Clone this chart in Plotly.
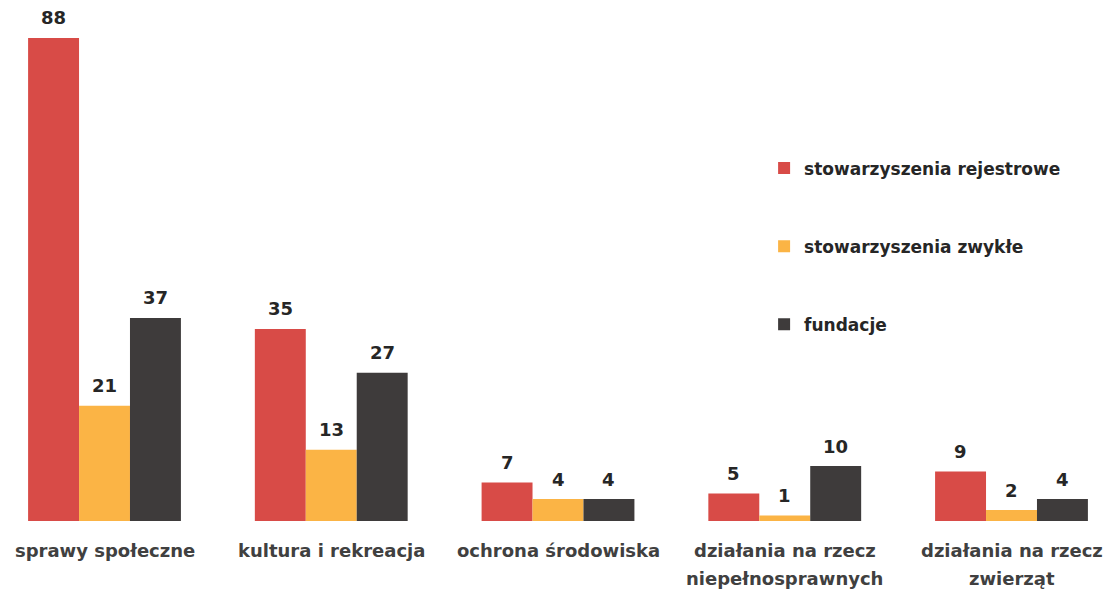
import plotly.graph_objects as go

categories = ["sprawy społeczne", "kultura i rekreacja", "ochrona środowiska",
              "działania na rzecz<br>niepełnosprawnych", "działania na rzecz<br>zwierząt"]
series_names = ["stowarzyszenia rejestrowe", "stowarzyszenia zwykłe", "fundacje"]
rejestrowe = [88, 35, 7, 5, 9]
zwykle = [21, 13, 4, 1, 2]
fundacje = [37, 27, 4, 10, 4]
colors = ["#d84b47", "#fbb445", "#3e3b3b"]

series = [rejestrowe, zwykle, fundacje]
x = list(range(len(categories)))
bargap = 0.326
bw = (1 - bargap) / 3

FONT = "DejaVu Sans"
fig = go.Figure()
for i, (name, vals, col) in enumerate(zip(series_names, series, colors)):
    fig.add_trace(go.Bar(x=x, y=vals, name=f"<b>{name}</b>",
                         marker=dict(color=col, line=dict(width=0)),
                         legendgroup=name, hoverinfo="skip"))

annotations = []
for i, vals in enumerate(series):
    off = (i - 1) * bw
    for xi, v in zip(x, vals):
        annotations.append(dict(x=xi + off, y=v, xref="x", yref="y", text=f"<b>{v}</b>",
                                showarrow=False, yshift=20, yanchor="middle",
                                font=dict(family=FONT, size=18, color="#262626")))
for xi, cat in zip(x, categories):
    for li, line in enumerate(cat.split("<br>")):
        annotations.append(dict(x=xi, y=0, xref="x", yref="paper", text=f"<b>{line}</b>",
                                showarrow=False, yshift=-29 - 28 * li, yanchor="middle",
                                font=dict(family=FONT, size=18, color="#404040")))

fig.update_layout(
    width=1109, height=589,
    margin=dict(l=0, r=0, t=0, b=68),
    paper_bgcolor="white", plot_bgcolor="white",
    barmode="group", bargap=bargap, bargroupgap=0,
    xaxis=dict(range=[-0.4609, 4.430], showticklabels=False, showgrid=False,
               zeroline=False, showline=False, ticks=""),
    yaxis=dict(range=[0, 94.92], visible=False),
    showlegend=True,
    legend=dict(x=0.689, y=0.711, xanchor="left", yanchor="top", tracegroupgap=53,
                font=dict(family=FONT, size=17, color="#262626"), itemwidth=30,
                bgcolor="rgba(0,0,0,0)"),
    annotations=annotations,
)
fig.write_html("out.html", config={"displayModeBar": False},
               post_script="document.body.style.margin='0';document.body.style.padding='0';window.dispatchEvent(new Event('resize'));")
